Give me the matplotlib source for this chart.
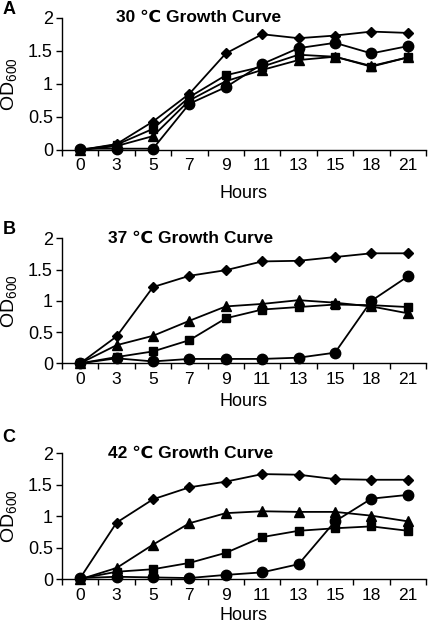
import matplotlib
matplotlib.use('Agg')
import matplotlib.pyplot as plt
import numpy as np

plt.rcParams['font.family'] = ['Liberation Sans', 'DejaVu Sans']
plt.rcParams['mathtext.fontset'] = 'custom'
plt.rcParams['mathtext.rm'] = 'Liberation Sans'

hours = ['0', '3', '5', '7', '9', '11', '13', '15', '18', '21']

# 30 C
a_diamond = [0.0, 0.09, 0.43, 0.85, 1.46, 1.75, 1.69, 1.73, 1.79, 1.77]
a_circle = [0.02, 0.02, 0.02, 0.70, 0.95, 1.30, 1.54, 1.62, 1.46, 1.57]
a_square = [0.0, 0.08, 0.32, 0.80, 1.13, 1.26, 1.44, 1.41, 1.26, 1.40]
a_triangle = [0.0, 0.06, 0.21, 0.75, 1.04, 1.21, 1.36, 1.41, 1.27, 1.40]

# 37 C
b_diamond = [0.0, 0.43, 1.22, 1.40, 1.49, 1.63, 1.64, 1.70, 1.76, 1.76]
b_circle = [0.0, 0.08, 0.03, 0.07, 0.07, 0.07, 0.09, 0.17, 1.00, 1.39]
b_square = [0.0, 0.10, 0.19, 0.37, 0.72, 0.86, 0.90, 0.94, 0.93, 0.90]
b_triangle = [0.0, 0.29, 0.44, 0.68, 0.91, 0.95, 1.01, 0.97, 0.91, 0.80]

# 42 C
c_diamond = [0.02, 0.90, 1.27, 1.46, 1.55, 1.67, 1.66, 1.59, 1.58, 1.58]
c_circle = [0.02, 0.04, 0.03, 0.02, 0.07, 0.11, 0.24, 0.92, 1.28, 1.34]
c_square = [0.01, 0.12, 0.16, 0.26, 0.42, 0.67, 0.77, 0.81, 0.84, 0.77]
c_triangle = [0.0, 0.18, 0.55, 0.89, 1.05, 1.08, 1.07, 1.07, 1.01, 0.92]

W, H = 428, 623
# (letter, title, axes rect, title x, letter y px, xlabel y px, series)
panels = [
    ('A', '30 \u2103 Growth Curve', [62 / W, 1 - 150 / H, 364 / W, 132.3 / H], 0.376, 10, 193,
     [a_diamond, a_circle, a_square, a_triangle]),
    ('B', '37 \u2103 Growth Curve', [62 / W, 1 - 363.3 / H, 364 / W, 125 / H], 0.352, 230, 401,
     [b_diamond, b_circle, b_square, b_triangle]),
    ('C', '42 \u2103 Growth Curve', [62 / W, 1 - 579.3 / H, 364 / W, 126 / H], 0.352, 438, 615,
     [c_diamond, c_circle, c_square, c_triangle]),
]
markers = [('D', 5.5), ('o', 7.5), ('s', 6), ('^', 7.5)]

fig = plt.figure(figsize=(W / 100, H / 100), dpi=100)
x = np.arange(len(hours))

for letter, title, pos, tx, ly, xly, series in panels:
    ax = fig.add_axes(pos)
    for vals, (m, ms) in zip(series, markers):
        ax.plot(x, vals, color='black', marker=m, markersize=ms, lw=1.3, clip_on=False)
    ax.set_xlim(-0.5, len(hours) - 0.5)
    ax.set_ylim(0, 2)
    ax.set_yticks([0, 0.5, 1, 1.5, 2])
    ax.set_yticklabels(['0', '0.5', '1', '1.5', '2'])
    ax.set_xticks(np.arange(-0.5, len(hours)), labels=[''] * (len(hours) + 1))
    ax.set_xticks(x, labels=hours, minor=True)
    ax.tick_params(axis='x', which='major', direction='out', length=4.5, width=1)
    ax.tick_params(axis='x', which='minor', length=0, pad=6, labelsize=12.5)
    ax.tick_params(axis='y', direction='out', length=4.5, width=1, pad=2, labelsize=13)
    for s in ['top', 'right']:
        ax.spines[s].set_visible(False)
    for s in ['left', 'bottom']:
        ax.spines[s].set_linewidth(1.0)
    ax.text(tx, 1.0, title, transform=ax.transAxes, fontsize=12.5, fontweight='bold',
            ha='center', va='center')
    bb = ax.get_position()
    fig.text(10 / W, (bb.y0 + bb.y1) / 2, 'OD$_\\mathregular{600}$', fontsize=14,
             rotation=90, ha='center', va='center')
    fig.text((bb.x0 + bb.x1) / 2, 1 - xly / H, 'Hours', fontsize=13,
             ha='center', va='center')
    fig.text(9 / W, 1 - ly / H, letter, fontsize=13, fontweight='bold',
             ha='center', va='center')

fig.savefig('out.png', dpi=100)
